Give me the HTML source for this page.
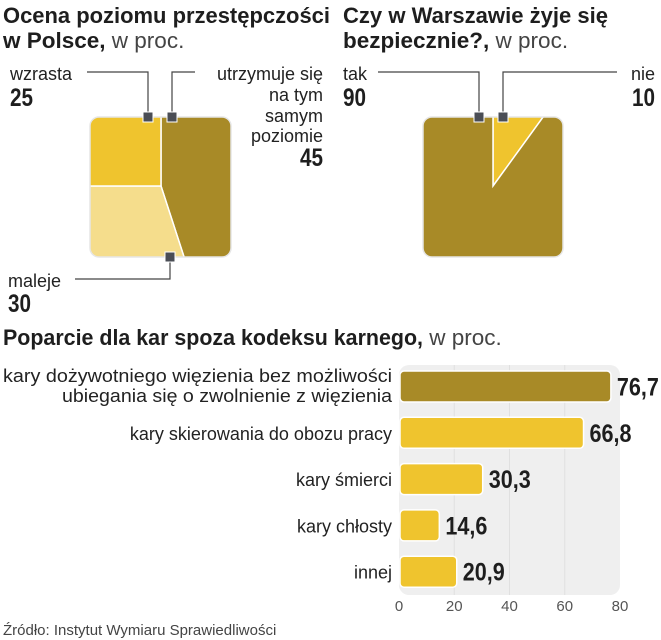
<!DOCTYPE html>
<html><head><meta charset="utf-8"><style>
html,body{margin:0;padding:0;background:#fff;}
svg{display:block;font-family:"Liberation Sans",sans-serif;}
.b{font-weight:bold;fill:#1e1e1e;}
.l{fill:#222;}
</style></head><body>
<svg id="root" width="661" height="640" viewBox="0 0 661 640">
<defs>
<clipPath id="clipL"><rect x="90" y="117" width="141" height="140" rx="9"/></clipPath>
<clipPath id="clipR"><rect x="423" y="117" width="140" height="140" rx="9"/></clipPath>
</defs>
<text x="3" y="23" font-size="22.5" class="b" textLength="327" lengthAdjust="spacingAndGlyphs">Ocena poziomu przestępczości</text>
<text x="3" y="48" font-size="22.5"><tspan class="b">w Polsce,</tspan><tspan fill="#444" font-weight="300"> w proc.</tspan></text>
<text x="343" y="23" font-size="22.5" class="b" textLength="265" lengthAdjust="spacingAndGlyphs">Czy w Warszawie żyje się</text>
<text x="343" y="48" font-size="22.5"><tspan class="b">bezpiecznie?,</tspan><tspan fill="#444"> w proc.</tspan></text>

<g id="pie1" clip-path="url(#clipL)"></g>
<rect x="90" y="117" width="141" height="140" rx="9" fill="none" stroke="#e6e6e6" stroke-width="1.5"/>
<g id="pie2" clip-path="url(#clipR)"></g>
<rect x="423" y="117" width="140" height="140" rx="9" fill="none" stroke="#e6e6e6" stroke-width="1.5"/>

<g stroke="#444" stroke-width="1.2" fill="none">
<polyline points="87,72 148,72 148,117"/>
<polyline points="172,117 172,72 195,72"/>
<polyline points="170,257 170,279 75,279"/>
<polyline points="378,72 479,72 479,117"/>
<polyline points="503,117 503,72 617,72"/>
</g>
<g fill="#4a4d55" stroke="#fff" stroke-width="1">
<rect x="143" y="112" width="10" height="10"/><rect x="167" y="112" width="10" height="10"/>
<rect x="165" y="252" width="10" height="10"/>
<rect x="474" y="112" width="10" height="10"/><rect x="498" y="112" width="10" height="10"/>
</g>
<g font-size="18" class="l">
<text x="10" y="80">wzrasta</text>
<text x="10" y="106" font-size="25" class="b" textLength="23" lengthAdjust="spacingAndGlyphs">25</text>
<g text-anchor="end">
<text x="323" y="80">utrzymuje się</text><text x="323" y="101">na tym</text><text x="323" y="122">samym</text><text x="323" y="142">poziomie</text>
</g>
<text x="323" y="166" text-anchor="end" font-size="25" class="b" textLength="23" lengthAdjust="spacingAndGlyphs">45</text>
<text x="8" y="287">maleje</text>
<text x="8" y="312" font-size="25" class="b" textLength="23" lengthAdjust="spacingAndGlyphs">30</text>
<text x="343" y="80">tak</text>
<text x="343" y="106" font-size="25" class="b" textLength="23" lengthAdjust="spacingAndGlyphs">90</text>
<text x="655" y="80" text-anchor="end">nie</text>
<text x="655" y="106" text-anchor="end" font-size="25" class="b" textLength="23" lengthAdjust="spacingAndGlyphs">10</text>
</g>

<text x="3" y="345" font-size="22.5"><tspan class="b" textLength="420" lengthAdjust="spacingAndGlyphs">Poparcie dla kar spoza kodeksu karnego,</tspan><tspan fill="#444"> w proc.</tspan></text>
<rect x="399" y="365" width="221" height="230" rx="10" fill="#efefef"/>
<g id="bars"></g>
<text x="3" y="635" font-size="15" fill="#444">Źródło: Instytut Wymiaru Sprawiedliwości</text>
</svg>
<script>
const NS="http://www.w3.org/2000/svg";
const pie1Labels=["utrzymuje się na tym samym poziomie","maleje","wzrasta"];
const pie1Values=[45,30,25];
const pie2Labels=["nie","tak"];
const pie2Values=[10,90];
const barCategories=[["kary dożywotniego więzienia bez możliwości","ubiegania się o zwolnienie z więzienia"],["kary skierowania do obozu pracy"],["kary śmierci"],["kary chłosty"],["innej"]];
const barValues=[76.7,66.8,30.3,14.6,20.9];
const barValueLabels=["76,7","66,8","30,3","14,6","20,9"];
const xTicks=[0,20,40,60,80];

function mk(tag,attrs,parent){const e=document.createElementNS(NS,tag);for(const k in attrs)e.setAttribute(k,attrs[k]);parent.appendChild(e);return e;}
function drawPie(g,cx,cy,vals,colors,names){
  const tot=vals.reduce((a,b)=>a+b,0);let a0=0;const R=300;
  vals.forEach((v,i)=>{
    const a1=a0+v/tot*2*Math.PI;
    const p=(a)=>[cx+R*Math.sin(a),cy-R*Math.cos(a)];
    const [x0,y0]=p(a0),[x1,y1]=p(a1);
    const large=(a1-a0)>Math.PI?1:0;
    const el=mk('path',{d:`M${cx},${cy}L${x0},${y0}A${R},${R} 0 ${large} 1 ${x1},${y1}Z`,fill:colors[i],stroke:'#fff','stroke-width':1.5},g);
    
    
    a0=a1;
  });
}
drawPie(document.getElementById('pie1'),161,186,pie1Values,['#a88a27','#f5dd8c','#efc42e'],['utrzymuje','maleje','wzrasta']);
drawPie(document.getElementById('pie2'),493,186,pie2Values,['#efc42e','#a88a27'],['nie','tak']);

const x0=399,x1=620,xmax=80;
const xs=v=>x0+(x1-x0)*v/xmax;
const bandTop=371,band=46.3,bh=31;
const g=document.getElementById('bars');
xTicks.forEach(t=>{
  if(t>0&&t<xmax){const ln=mk('line',{x1:xs(t),x2:xs(t),y1:365,y2:595,stroke:'#e0e0e0','stroke-width':1},g);
  
  }
  const tx=mk('text',{x:xs(t),y:611,'text-anchor':'middle','font-size':15,fill:'#555'},g);
  tx.textContent=t;
  
  
});
barValues.forEach((v,i)=>{
  const y=bandTop+i*band;
  const r=mk('rect',{x:x0+1,y:y,width:xs(v)-x0-1,height:bh,rx:4,fill:i===0?'#a88a27':'#efc42e',stroke:'#fff','stroke-width':1.5},g);
  
  
  const lt=mk('text',{x:xs(v)+6,y:y+bh/2+9,'font-size':25,'font-weight':'bold',fill:'#1e1e1e',textLength:42,lengthAdjust:'spacingAndGlyphs'},g);
  lt.textContent=barValueLabels[i];
  
  
  const lines=barCategories[i];
  lines.forEach((s,j)=>{
    const yy=lines.length===1?y+bh/2+7:y+11+j*20;
    const c=mk('text',{x:392,y:yy,'text-anchor':'end','font-size':18,fill:'#222'},g);
    if(lines.length>1){c.setAttribute('textLength',j===0?389:330);c.setAttribute('lengthAdjust','spacingAndGlyphs');}
    c.textContent=s;
    
    
  });
});
</script>
</body></html>
